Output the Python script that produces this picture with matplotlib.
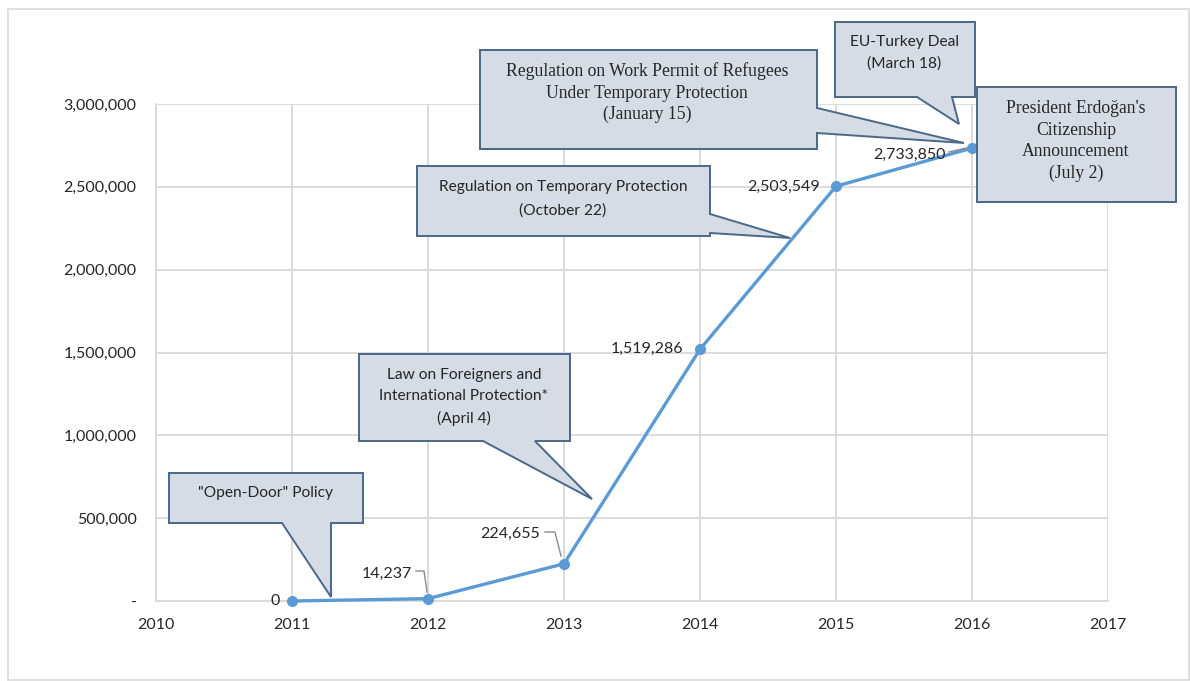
import matplotlib
matplotlib.use("Agg")
import matplotlib.pyplot as plt
from matplotlib.patches import Polygon, Rectangle
from matplotlib.transforms import Affine2D

# ---- data ----
years = [2011, 2012, 2013, 2014, 2015, 2016]
refugees = [0, 14237, 224655, 1519286, 2503549, 2733850]
value_labels = ["0", "14,237", "224,655", "1,519,286", "2,503,549", "2,733,850"]
xticks = [2010, 2011, 2012, 2013, 2014, 2015, 2016, 2017]
yticks = [0, 500000, 1000000, 1500000, 2000000, 2500000, 3000000]
ytick_labels = ["-", "500,000", "1,000,000", "1,500,000", "2,000,000", "2,500,000", "3,000,000"]

W, H = 1190, 681
fig = plt.figure(figsize=(W / 100, H / 100), dpi=100)
fig.patch.set_facecolor("white")
ax = fig.add_axes([156 / W, 1 - 601 / H, (1108 - 156) / W, (601 - 104) / H])

SANS = ["Lato", "DejaVu Sans"]
SERIF = ["Liberation Serif", "DejaVu Serif"]
TXT = "#262626"
GRID = "#d9d9d9"
LINE = "#5b9bd5"
FILL = "#d5dce6"
EDGE = "#4a6887"

ax.set_xlim(2010, 2017)
ax.set_ylim(0, 3000000)
ax.set_xticks(xticks)
ax.set_xticklabels([str(x) for x in xticks], fontfamily=SANS, fontsize=11.5, color=TXT)
ax.set_yticks(yticks)
ax.set_yticklabels(ytick_labels, fontfamily=SANS, fontsize=11.5, color=TXT)
ax.tick_params(axis="y", length=0, pad=14)
ax.tick_params(axis="x", length=0, pad=12)
ax.grid(True, color=GRID, lw=1.3)
ax.set_axisbelow(True)
for s in ["top", "right"]:
    ax.spines[s].set_visible(False)
for s in ["left", "bottom"]:
    ax.spines[s].set_color(GRID)
    ax.spines[s].set_linewidth(1.3)

ax.plot(years, refugees, color=LINE, lw=2.4, marker="o", ms=7, zorder=3, clip_on=False)

# value labels
offsets = [(-12, 0), (-16, 25), (-24, 30), (-17, 0), (-16, -1), (-26, -7)]
for x, y, lab, (dx, dy) in zip(years, refugees, value_labels, offsets):
    ax.annotate(lab, (x, y), xytext=(dx, dy), textcoords="offset pixels",
                ha="right", va="center", fontfamily=SANS, fontsize=11.5, color=TXT, zorder=4)

# pixel-space transform (origin top-left) for callouts / leaders
pix = Affine2D().scale(1 / W, -1 / H).translate(0, 1) + fig.transFigure

def leader(pts):
    xs, ys = zip(*pts)
    fig.add_artist(plt.Line2D(xs, ys, transform=pix, color="#8c8c8c", lw=1.0, zorder=4))

leader([(416, 571), (424, 571), (427, 592)])
leader([(545, 532), (555, 532), (561, 556)])
leader([(949, 152), (966, 148)])

def callout(verts, z=5):
    fig.add_artist(Polygon(verts, closed=True, transform=pix, facecolor=FILL,
                           edgecolor=EDGE, lw=1.4, zorder=z))

def ctext(x, y, s, fam, size, ls=1.25):
    fig.text(x / W, 1 - y / H, s, ha="center", va="center", fontfamily=fam,
             fontsize=size, color=TXT, linespacing=ls, zorder=6)

# "Open-Door" Policy
callout([(169, 473), (363, 473), (363, 523), (331, 523), (331, 597), (282, 523), (169, 523)])
ctext(266, 493, '"Open-Door" Policy', SANS, 11.2)

# Law on Foreigners
callout([(359, 354), (570, 354), (570, 441), (535, 441), (592, 499), (483, 441), (359, 441)])
ctext(464, 397, "Law on Foreigners and\nInternational Protection*\n(April 4)", SANS, 11.2, 1.68)

# Regulation on Temporary Protection
callout([(417, 166), (710, 166), (710, 214), (790, 238), (710, 233), (710, 236), (417, 236)])
ctext(563, 199, "Regulation on Temporary Protection\n(October 22)", SANS, 11.2, 1.85)

# Work permit
callout([(480, 50), (817, 50), (817, 108), (964, 143), (817, 133), (817, 149), (480, 149)])
ctext(647, 93, "Regulation on Work Permit of Refugees\nUnder Temporary Protection\n(January 15)", SERIF, 12.7, 1.33)

# EU-Turkey deal
callout([(835, 22), (975, 22), (975, 97), (952, 97), (959, 124), (917, 97), (835, 97)])
ctext(904, 53, "EU-Turkey Deal\n(March 18)", SANS, 11.2, 1.62)

# Erdogan
callout([(977, 87), (1176, 87), (1176, 202), (977, 202)])
ctext(1076, 141, "President Erdoğan's\nCitizenship\nAnnouncement\n(July 2)", SERIF, 12.7, 1.33)

# outer frame
fig.add_artist(Rectangle((8, 9), 1181, 671, transform=pix, fill=False, edgecolor="#d9d9d9", lw=1.2))

fig.savefig("out.png", dpi=100)
